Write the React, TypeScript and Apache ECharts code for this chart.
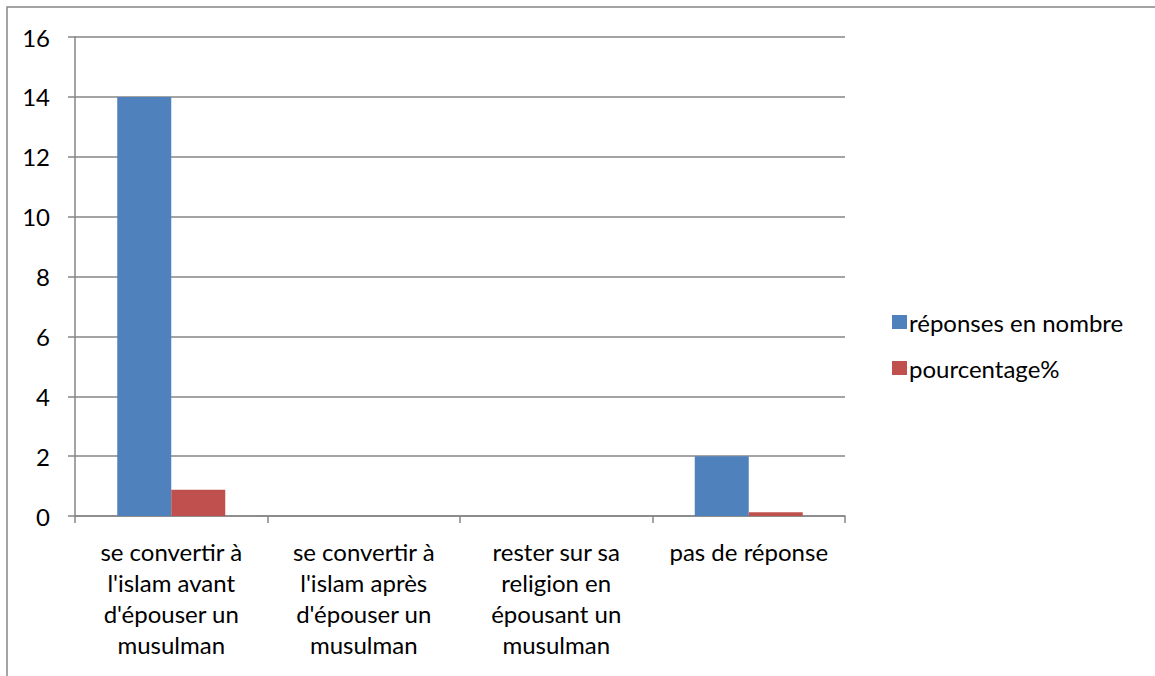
import React, { useEffect, useRef } from "react";
import * as echarts from "echarts";

const categories = [
  "se convertir à\nl'islam avant\nd'épouser un\nmusulman",
  "se convertir à\nl'islam après\nd'épouser un\nmusulman",
  "rester sur sa\nreligion en\népousant un\nmusulman",
  "pas de réponse",
];
const seriesNames = ["réponses en nombre", "pourcentage%"];
const reponses = [14, 0, 0, 2];
const pourcentage = [0.875, 0, 0, 0.125];
const yTicks = { min: 0, max: 16, interval: 2 };

const FONT = "Lato, 'Open Sans', sans-serif";
const FS = 24;
const GRAY = "#868686";

export default function App() {
  const ref = useRef<HTMLDivElement>(null);
  useEffect(() => {
    document.body.style.margin = "0";
    const chart = echarts.init(ref.current!, undefined, { renderer: "svg" });
    chart.setOption({
      animation: false,
      textStyle: { fontFamily: FONT },
      grid: { left: 75, right: 310, top: 37, bottom: 160 },
      graphic: [
        {
          type: "rect",
          shape: { x: 7, y: 7, width: 1300, height: 800 },
          style: { fill: "none", stroke: GRAY, lineWidth: 1.5 },
          silent: true,
        },
      ],
      legend: {
        orient: "vertical",
        left: 887,
        top: 305,
        itemWidth: 15,
        itemHeight: 14,
        itemGap: 22,
        icon: "rect",
        textStyle: { fontSize: FS, color: "#000", fontFamily: FONT, padding: [0, 0, 0, -3] },
        data: seriesNames,
      },
      xAxis: {
        type: "category",
        data: categories,
        axisLine: { lineStyle: { color: GRAY, width: 1.5 } },
        axisTick: { show: true, length: 7, lineStyle: { color: GRAY, width: 1.5 } },
        axisLabel: {
          fontSize: FS,
          lineHeight: 31,
          color: "#000",
          margin: 20,
          interval: 0,
          fontFamily: FONT,
          verticalAlign: "top",
        },
      },
      yAxis: {
        type: "value",
        min: yTicks.min,
        max: yTicks.max,
        interval: yTicks.interval,
        axisLine: { show: true, lineStyle: { color: GRAY, width: 1.5 } },
        axisTick: { show: true, length: 7, lineStyle: { color: GRAY, width: 1.5 } },
        splitLine: { lineStyle: { color: GRAY, width: 1.5 } },
        axisLabel: { fontSize: FS, color: "#000", margin: 25, fontFamily: FONT },
      },
      series: [
        {
          name: seriesNames[0],
          type: "bar",
          data: reponses,
          barWidth: 54,
          barGap: "0%",
          itemStyle: { color: "#4F81BD" },
        },
        {
          name: seriesNames[1],
          type: "bar",
          data: pourcentage,
          barWidth: 54,
          barGap: "0%",
          itemStyle: { color: "#C0504D" },
        },
      ],
    });
    return () => chart.dispose();
  }, []);
  return <div ref={ref} style={{ width: 1155, height: 676 }} />;
}
